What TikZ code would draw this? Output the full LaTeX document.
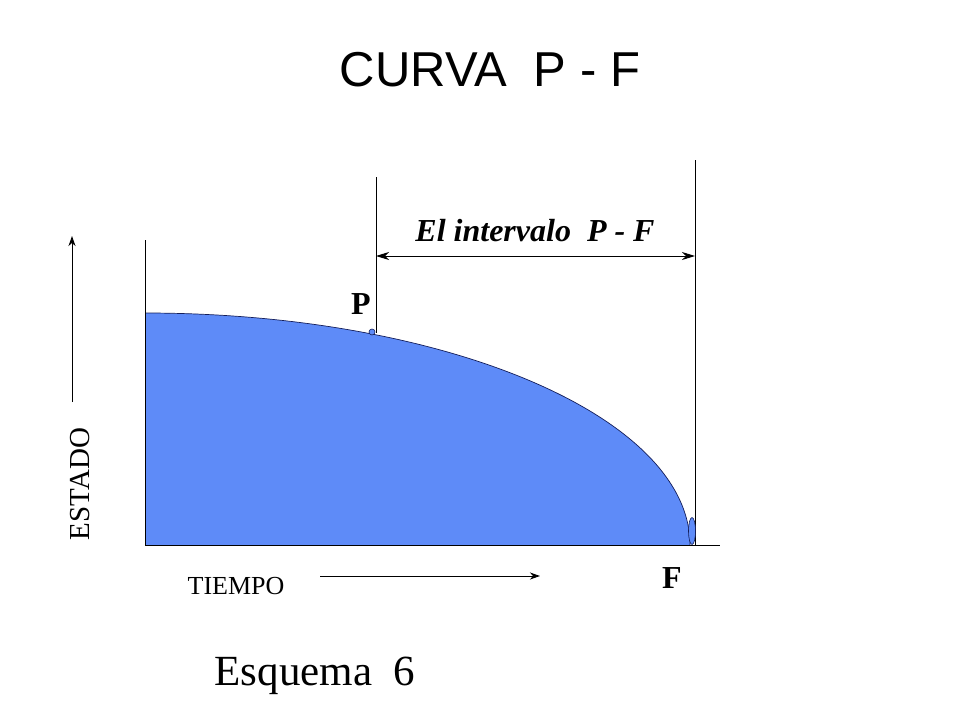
\documentclass[tikz,border=0pt]{standalone}
\usepackage{fontspec}
\setmainfont{Liberation Serif}
\newfontfamily\titlefont{Liberation Sans}
\usetikzlibrary{arrows.meta,shapes.geometric}
\definecolor{areablue}{RGB}{94,139,248}
\definecolor{edgeblue}{RGB}{20,30,90}
\tikzset{
  axisline/.style={line width=1pt,black},
  guide/.style={line width=1pt,black},
  arrowline/.style={line width=1pt,-{Stealth[length=10pt,width=7pt,inset=3pt]}},
  dotmark/.style={ellipse,fill=areablue,draw=edgeblue,line width=0.6pt},
}
\begin{document}
\begin{tikzpicture}[x=1pt,y=-1pt]
\useasboundingbox (0,0) rectangle (960,720);
% title
\node[font=\titlefont\fontsize{49}{54}\selectfont] (title) at (490,70) {CURVA\ \ P - F};
% filled area (quarter ellipse)
\fill[areablue] (145,545) -- (145,313) arc[start angle=90,end angle=0,x radius=545,y radius=-232] -- cycle;
\draw[edgeblue,line width=0.7pt] (145,313) arc[start angle=90,end angle=0,x radius=545,y radius=-232];
% axes
\coordinate (o) at (145,545);
\coordinate (ytop) at (145,240);
\coordinate (xend) at (720,545);
\draw[axisline] (ytop) -- (o) -- (xend);
% guides
\coordinate (pbot) at (376,333);
\coordinate (ptop) at (376,177);
\coordinate (fbot) at (695,545);
\coordinate (ftop) at (695,160);
\draw[guide] (ptop) -- (pbot);
\draw[guide] (ftop) -- (fbot);
\coordinate (aL) at (376,256);
\coordinate (aR) at (695,256);
\draw[line width=1pt,{Stealth[length=13pt,width=8pt,inset=4pt]}-{Stealth[length=13pt,width=8pt,inset=4pt]}] (aL) -- (aR);
\node[font=\bfseries\itshape\fontsize{32}{34}\selectfont] (interval) at (535,231) {El intervalo\ \ P - F};
% points
\node[dotmark,minimum width=6pt,minimum height=6pt,inner sep=0pt] (pdot) at (372,332) {};
\node[dotmark,minimum width=7pt,minimum height=27pt,inner sep=0pt] (fdot) at (692,531) {};
\node[font=\bfseries\fontsize{32}{34}\selectfont] (plab) at (361,304) {P};
\node[font=\bfseries\fontsize{32}{34}\selectfont] (flab) at (672,578) {F};
% time
\node[font=\fontsize{26}{28}\selectfont] (tiempo) at (236,586) {TIEMPO};
\coordinate (t1) at (320,576);
\coordinate (t2) at (540,576);
\draw[arrowline] (t1) -- (t2);
% state
\node[font=\fontsize{29}{30}\selectfont,rotate=90] (estado) at (80,484) {ESTADO};
\coordinate (e1) at (72,402);
\coordinate (e2) at (72,236);
\draw[arrowline] (e1) -- (e2);
% scheme
\node[font=\fontsize{43}{46}\selectfont] (esquema) at (315,676) {Esquema\ \ 6};
\end{tikzpicture}
\end{document}
